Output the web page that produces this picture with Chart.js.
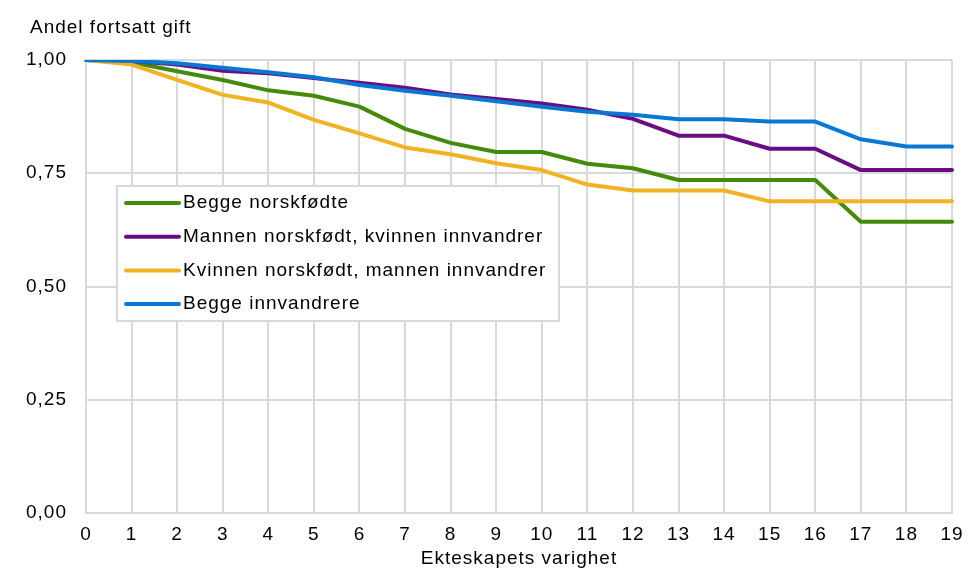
<!DOCTYPE html>
<html><head><meta charset="utf-8">
<script src="https://cdn.jsdelivr.net/npm/chart.js@4"></script>
<style>html,body{margin:0;padding:0;background:#fff}</style>
</head><body>
<canvas id="c" width="969" height="573"></canvas>
<script>
const categories = ['0','1','2','3','4','5','6','7','8','9','10','11','12','13','14','15','16','17','18','19'];
const yTickLabels = ['0,00','0,25','0,50','0,75','1,00'];
const yAxisTitle = 'Andel fortsatt gift';
const xAxisTitle = 'Ekteskapets varighet';
const seriesNames = ['Begge norskfødte','Mannen norskfødt, kvinnen innvandrer','Kvinnen norskfødt, mannen innvandrer','Begge innvandrere'];
const seriesColors = ['#468a0b','#6a0d83','#f0b323','#0a78d2'];
const beggeNorskfodte = [1.000,0.995,0.975,0.956,0.933,0.921,0.897,0.848,0.817,0.797,0.797,0.771,0.761,0.735,0.735,0.735,0.735,0.643,0.643,0.643];
const mannenNorskfodt = [1.000,0.998,0.990,0.976,0.971,0.960,0.950,0.939,0.924,0.914,0.904,0.890,0.870,0.833,0.833,0.804,0.804,0.757,0.757,0.757];
const kvinnenNorskfodt = [1.000,0.990,0.956,0.923,0.906,0.868,0.838,0.807,0.792,0.772,0.757,0.725,0.712,0.712,0.712,0.688,0.688,0.688,0.688,0.688];
const beggeInnvandrere = [1.000,0.998,0.993,0.983,0.973,0.962,0.945,0.932,0.921,0.909,0.897,0.886,0.879,0.869,0.869,0.864,0.864,0.825,0.809,0.809];
const seriesValues = [beggeNorskfodte, mannenNorskfodt, kvinnenNorskfodt, beggeInnvandrere];
const drawOrder = [4,3,2,1];

const FONT = 'Arial, "Liberation Sans", Helvetica, sans-serif';
const FSIZE = 19;
const gridColor = '#d9d9d9';

const textSpacing = {
  id: 'textSpacing',
  beforeDraw(chart) {
    try { chart.ctx.letterSpacing = '1px'; } catch (e) {}
  }
};

const topTitle = {
  id: 'topTitle',
  afterDraw(chart) {
    const ctx = chart.ctx;
    ctx.save();
    ctx.font = FSIZE + 'px ' + FONT;
    ctx.fillStyle = '#000';
    ctx.textAlign = 'left';
    ctx.textBaseline = 'alphabetic';
    ctx.fillText(yAxisTitle, 30, 33);
    ctx.restore();
  }
};

const boxLegend = {
  id: 'boxLegend',
  afterDraw(chart) {
    const ctx = chart.ctx;
    const ca = chart.chartArea;
    const left = ca.left + 31, top = ca.top + 126, w = 442, h = 135;
    ctx.save();
    ctx.fillStyle = '#fff';
    ctx.fillRect(left, top, w, h);
    ctx.strokeStyle = gridColor;
    ctx.lineWidth = 2;
    ctx.strokeRect(left, top, w, h);
    ctx.font = FSIZE + 'px ' + FONT;
    ctx.textBaseline = 'middle';
    ctx.textAlign = 'left';
    chart.data.datasets.forEach((ds, i) => {
      const y = top + 17 + i * 33.7;
      ctx.strokeStyle = ds.borderColor;
      ctx.lineWidth = 4;
      ctx.lineCap = 'round';
      ctx.beginPath();
      ctx.moveTo(left + 9, y);
      ctx.lineTo(left + 62, y);
      ctx.stroke();
      ctx.fillStyle = '#000';
      ctx.fillText(ds.label, left + 66, y);
    });
    ctx.restore();
  }
};

new Chart(document.getElementById('c'), {
  type: 'line',
  data: {
    labels: categories,
    datasets: seriesValues.map((vals, i) => ({
      label: seriesNames[i],
      data: vals,
      borderColor: seriesColors[i],
      backgroundColor: seriesColors[i],
      borderWidth: 4,
      pointRadius: 0,
      tension: 0,
      borderCapStyle: 'round',
      borderJoinStyle: 'round',
      fill: false,
      order: drawOrder[i]
    }))
  },
  options: {
    responsive: false,
    animation: false,
    devicePixelRatio: 1,
    layout: { padding: { left: 0, right: 17, top: 60, bottom: 0 } },
    plugins: {
      legend: { display: false },
      tooltip: { enabled: false },
      title: { display: false }
    },
    scales: {
      x: {
        grid: { color: gridColor, lineWidth: 2, drawTicks: false, offset: false },
        border: { color: gridColor, width: 2 },
        ticks: { color: '#000', font: { size: FSIZE, family: FONT }, padding: 10, maxRotation: 0, autoSkip: false },
        title: { display: true, text: xAxisTitle, color: '#000', font: { size: FSIZE, family: FONT }, padding: { top: 0, bottom: 3 } },
        afterFit(s) { s.height = 60; s.paddingLeft = 0; s.paddingRight = 0; }
      },
      y: {
        min: 0, max: 1,
        grid: { color: gridColor, lineWidth: 2, drawTicks: false },
        border: { color: gridColor, width: 2 },
        ticks: {
          stepSize: 0.25, color: '#000', font: { size: FSIZE, family: FONT }, padding: 19,
          callback: (v, i) => yTickLabels[i]
        },
        afterFit(s) { s.width = 86; s.paddingTop = 0; s.paddingBottom = 0; }
      }
    }
  },
  plugins: [textSpacing, topTitle, boxLegend]
});
</script>
</body></html>
